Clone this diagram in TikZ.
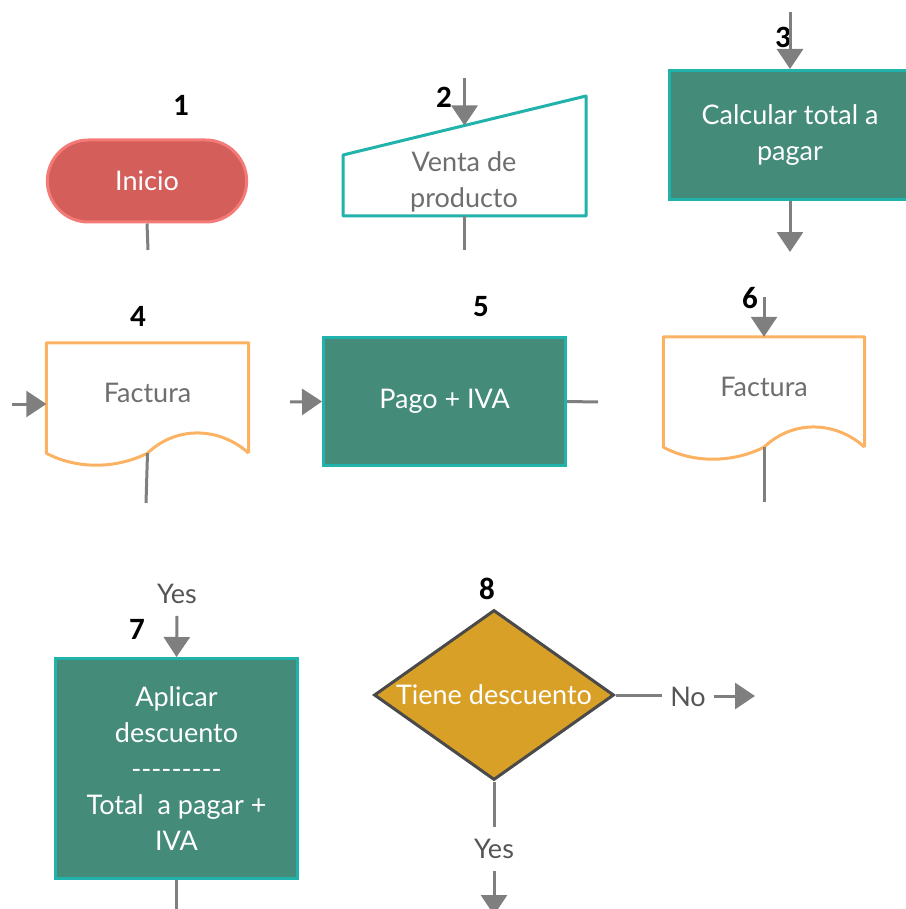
\documentclass[tikz,border=0pt]{standalone}
\usepackage{fontspec}
\newfontfamily\lato{Lato}
\newfontfamily\carlito{Carlito}
\usetikzlibrary{calc,shapes.geometric,shapes.misc,arrows.meta}

\definecolor{verdecaja}{HTML}{448B79}
\definecolor{turquesa}{HTML}{22B2AC}
\definecolor{rojoini}{HTML}{D35E5A}
\definecolor{rojoborde}{HTML}{F47A78}
\definecolor{naranja}{HTML}{FBB263}
\definecolor{mostaza}{HTML}{D9A027}
\definecolor{grislinea}{HTML}{7F7F7F}
\definecolor{gristexto}{HTML}{6E6E6E}
\definecolor{grisetq}{HTML}{555555}
\definecolor{grisborde}{HTML}{4A4A4A}

% contorno de documento alrededor de un nodo
\newcommand{\documento}[1]{%
  \draw[draw=naranja, line width=3pt, line join=round]
    (#1.south east) -- (#1.north east) -- (#1.north west) -- (#1.south west)
    .. controls ([xshift=30pt,yshift=-16pt]#1.south west)
       and ([xshift=-32pt,yshift=-16pt]#1.south) .. (#1.south)
    .. controls ([xshift=28pt,yshift=27pt]#1.south)
       and ([xshift=-30pt,yshift=27pt]#1.south east) .. (#1.south east);
}

\begin{document}
\begin{tikzpicture}[x=1pt, y=-1pt,
  texto/.style={font=\lato\fontsize{27}{36}\selectfont, align=center},
  numero/.style={font=\carlito\bfseries\fontsize{31}{34}\selectfont, inner sep=0pt},
  inicio/.style={texto, rounded rectangle, draw=rojoborde, fill=rojoini, line width=3pt,
                 text=white, minimum width=206pt, minimum height=82pt},
  proceso/.style={texto, draw=turquesa, fill=verdecaja, line width=3pt, text=white,
                  inner sep=0pt},
  doc/.style={texto, text=gristexto, minimum width=202pt, minimum height=110pt,
              text depth=10pt},
  decision/.style={texto, diamond, aspect=1.4, draw=grisborde, fill=mostaza, line width=3pt,
                   text=white, inner sep=0pt, minimum width=240pt, minimum height=170pt},
  etiqueta/.style={texto, text=grisetq, inner xsep=8pt, inner ysep=12pt},
  linea/.style={draw=grislinea, line width=3pt},
  flecha/.style={linea, -{Triangle[width=26pt,length=20pt]}},
]
\useasboundingbox (0,0) rectangle (905,909);

% fila 1
\node[inicio] (inicio) at (147,181) {Inicio};
\node[numero] (n1) at (181,105) {1};
\coordinate (fin1) at (148,250);
\draw[linea] (inicio.south) -- (fin1);

\coordinate (t1) at (343,155);
\coordinate (t2) at (586,96);
\coordinate (t3) at (586,216);
\coordinate (t4) at (343,216);
\draw[draw=turquesa, fill=white, line width=3pt, line join=round]
  (t1) -- (t2) -- (t3) -- (t4) -- cycle;
\node[texto, text=gristexto] (venta) at (464,182) {Venta de\\producto};
\node[numero] (n2) at (444,97) {2};
\coordinate (ini2) at (464.5,78);
\coordinate (fin2) at (464.5,250);
\draw[flecha] (ini2) -- ($(t1)!0.5!(t2)$);
\draw[linea] ($(t4)!0.5!(t3)$) -- (fin2);

\node[proceso, minimum width=241pt, minimum height=129pt] (calcular) at (790,135)
  {Calcular total a\\pagar};
\node[numero] (n3) at (783,37) {3};
\coordinate (ini3) at (790,12);
\coordinate (fin3) at (790,252);
\draw[flecha] (ini3) -- (calcular.north);
\draw[flecha] (calcular.south) -- (fin3);

% fila 2
\node[doc] (fact4) at (147.5,398) {Factura};
\documento{fact4}
\node[numero] (n4) at (138,316) {4};
\coordinate (ini4) at (12,404);
\coordinate (fin4) at (146,503);
\draw[flecha] (ini4) -- (ini4 -| fact4.west);
\draw[linea] (fact4.south) -- (fin4);

\node[proceso, minimum width=242pt, minimum height=128pt] (pago) at (444.5,401.5)
  {Pago + IVA};
\node[numero] (n5) at (481,307) {5};
\coordinate (ini5) at (290,402);
\coordinate (fin5) at (598,402);
\draw[flecha] (ini5) -- (pago.west);
\draw[linea] (pago.east) -- (fin5);

\node[doc, minimum width=201pt] (fact6) at (764,392) {Factura};
\documento{fact6}
\node[numero] (n6) at (750,298) {6};
\coordinate (ini6) at (764,297);
\coordinate (fin6) at (764,502);
\draw[flecha] (ini6) -- (fact6.north);
\draw[linea] (fact6.south) -- (fin6);

% fila 3
\node[proceso, minimum width=242pt, minimum height=220pt] (aplicar) at (176.5,768.5)
  {Aplicar\\descuento\\---------\\Total~~a pagar +\\IVA};
\node[numero] (n7) at (137,629) {7};
\node[etiqueta] (si7) at (177,594) {Yes};
\coordinate (fin7) at (176.5,915);
\draw[flecha] (si7.south) -- (aplicar.north);
\draw[linea] (aplicar.south) -- (fin7);

\node[decision] (descuento) at (494,695) {Tiene descuento};
\node[numero] (n8) at (487,589) {8};
\node[etiqueta] (no8) at (688,697) {No};
\node[etiqueta] (si8) at (494,849) {Yes};
\coordinate (finno) at (755,696);
\coordinate (finsi) at (494,915);
\draw[linea] (descuento.east) -- (descuento.east -| no8.west);
\draw[flecha] (no8.east |- finno) -- (finno);
\draw[linea] (descuento.south) -- (si8.north);
\draw[flecha] (si8.south) -- (finsi);

\end{tikzpicture}
\end{document}
